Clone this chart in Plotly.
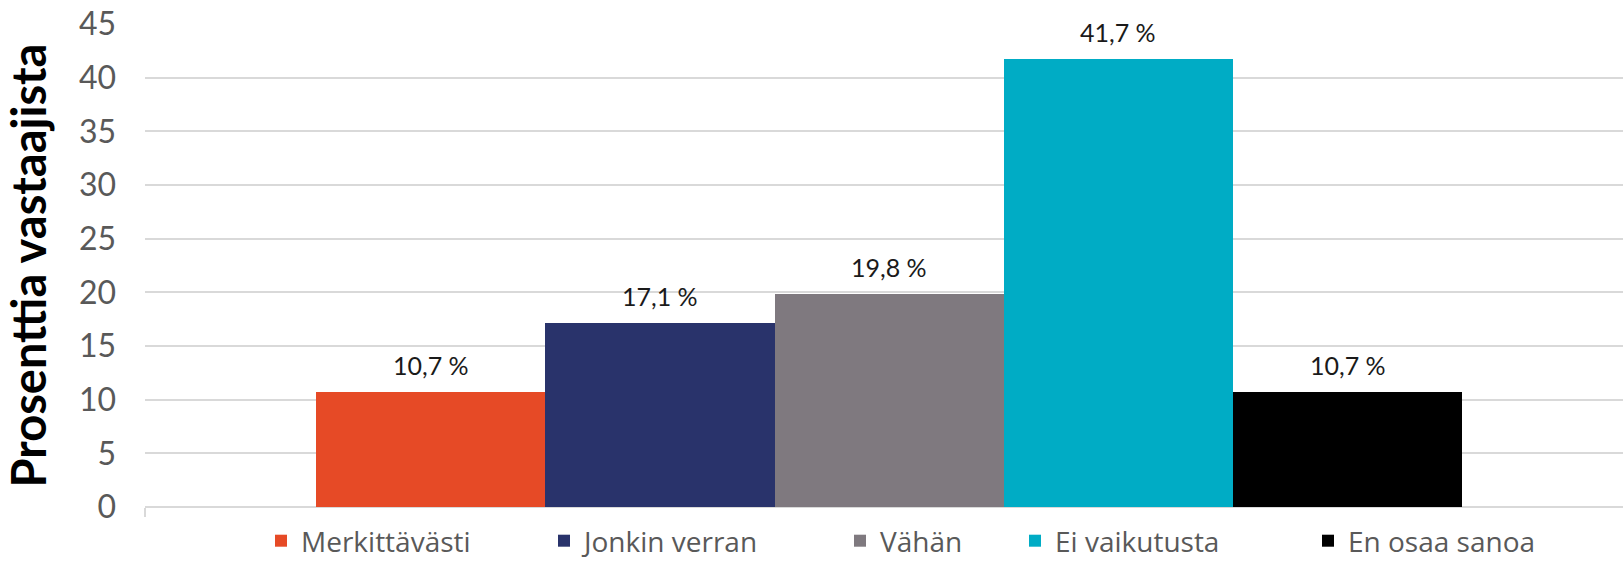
import plotly.graph_objects as go

# data
categories = ["Merkittävästi", "Jonkin verran", "Vähän", "Ei vaikutusta", "En osaa sanoa"]
values = [10.7, 17.1, 19.8, 41.7, 10.7]
colors = ["#E64A26", "#29336B", "#7F797F", "#00ACC5", "#000000"]
y_ticks = [0, 5, 10, 15, 20, 25, 30, 35, 40, 45]
# left edge (px) of each legend entry
legend_left = [276, 559, 855, 1030, 1323]

W, H = 1623, 561
x_range = [-1.245, 5.2]
fig = go.Figure()

for i, (name, val, col) in enumerate(zip(categories, values, colors)):
    lg = "legend" if i == 0 else f"legend{i + 1}"
    fig.add_trace(go.Bar(
        x=[name], y=[val], name=name, width=1.0,
        marker=dict(color=col, line=dict(width=0)),
        legend=lg,
    ))
    fig.add_annotation(
        x=name, y=val, xref="x", yref="y",
        text=f"{val:.1f} %".replace(".", ","),
        showarrow=False, yanchor="bottom", yshift=10,
        font=dict(size=25, color="#1a1a1a", family="Lato"),
    )

legends = {}
for i, lx in enumerate(legend_left):
    key = "legend" if i == 0 else f"legend{i + 1}"
    legends[key] = dict(
        orientation="h", xref="container", yref="container",
        x=(lx - 15) / W, xanchor="left", y=1 - 541 / H, yanchor="middle",
        font=dict(size=28, color="#595959", family="Open Sans"),
        bgcolor="rgba(0,0,0,0)",
    )

fig.update_layout(
    width=W, height=H,
    barmode="overlay", bargap=0,
    plot_bgcolor="white", paper_bgcolor="white",
    margin=dict(l=145, r=0, t=24, b=54),
    font=dict(family="Lato", color="#595959"),
    showlegend=True,
    **legends,
)

fig.update_yaxes(
    range=[0, 45], tickvals=y_ticks, automargin=False,
    showgrid=True, gridcolor="#D9D9D9", gridwidth=2,
    zeroline=True, zerolinecolor="#D9D9D9", zerolinewidth=2,
    tickfont=dict(size=32, color="#595959", family="Lato"),
    ticklabelstandoff=28,
    title=dict(text="<b>Prosenttia vastaajista</b>",
               font=dict(size=47, color="#000000", family="Lato", weight=900),
               standoff=20),
)
fig.update_xaxes(
    type="category", categoryorder="array", categoryarray=categories,
    range=x_range, automargin=False,
    tickvals=[x_range[0]], ticktext=[""], ticks="outside", ticklen=9,
    tickcolor="#D9D9D9", tickwidth=2,
    showgrid=False, zeroline=False, showline=False,
)

# drop the browser's default body margin so the figure sits at the page corner
fig.write_html("out.html", config={"displayModeBar": False},
               post_script="document.body.style.margin='0';")
